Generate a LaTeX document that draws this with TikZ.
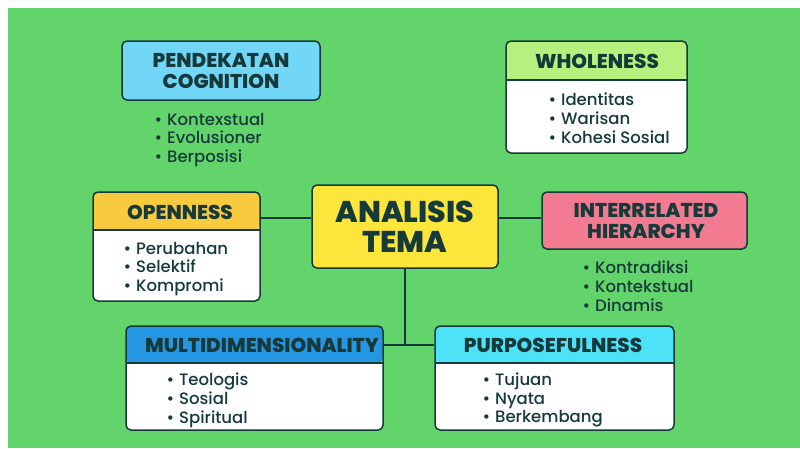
\documentclass[tikz,border=0pt]{standalone}
\usepackage{fontspec}
\setmainfont{Poppins}
\newfontfamily\isi{Poppins Medium}
\newfontfamily\tebal{Poppins ExtraBold}
\usetikzlibrary{positioning}
\definecolor{latar}{HTML}{63D46B}
\definecolor{tinta}{HTML}{163A3A}
\definecolor{langit}{HTML}{72D6F7}
\definecolor{muda}{HTML}{B8F07E}
\definecolor{emas}{HTML}{F8CB3F}
\definecolor{kuning}{HTML}{FDE63C}
\definecolor{merah}{HTML}{F37B91}
\definecolor{biru}{HTML}{2596E2}
\definecolor{toska}{HTML}{4DE2F8}
\tikzset{
    box/.style={draw=tinta, line width=1.5pt, rounded corners=5pt, inner sep=0pt},
    kepala/.style 2 args={path picture={
        \fill[#1] (path picture bounding box.north west) rectangle ([yshift=-#2]path picture bounding box.north east);
        \draw[tinta, line width=1.5pt] ([yshift=-#2]path picture bounding box.north west) -- ([yshift=-#2]path picture bounding box.north east);}},
    judul/.style={text=tinta, font=\tebal\fontsize{20}{21.5}\selectfont, align=center},
    butir/.style={text=tinta, font=\isi\fontsize{16.5}{18.8}\selectfont, align=left, anchor=west},
    conn/.style={draw=tinta, line width=1.5pt},
}
\newcommand{\bt}{\textbullet\hspace{5pt}}

\begin{document}
\begin{tikzpicture}[x=1pt, y=-1pt]
    \useasboundingbox (0,0) rectangle (800,448);
    \fill[latar] (8,8) rectangle (800,448);

    % hub lines
    \coordinate (lajur) at (405,218);
    \coordinate (hub) at (405,345);

    % main boxes
    \node[box, fill=kuning, minimum width=186, minimum height=83] (tema) at (405,226.5) {};
    \node[box, fill=langit, minimum width=198, minimum height=59] (pend) at (221,70.5) {};
    \node[box, fill=white, kepala={muda}{39pt}, minimum width=181, minimum height=112] (whole) at (596.5,97) {};
    \node[box, fill=white, kepala={emas}{38pt}, minimum width=167, minimum height=109] (open) at (176.5,246.5) {};
    \node[box, fill=merah, minimum width=205, minimum height=57] (inter) at (644.5,220.5) {};
    \node[box, fill=white, kepala={biru}{37pt}, minimum width=257, minimum height=104] (multi) at (254.5,378) {};
    \node[box, fill=white, kepala={toska}{37pt}, minimum width=239, minimum height=104] (purp) at (554.5,378) {};

    \draw[conn] (open.east |- lajur) -- (tema.west |- lajur);
    \draw[conn] (tema.east |- lajur) -- (inter.west |- lajur);
    \draw[conn] (tema.south) -- (hub);
    \draw[conn] (multi.east |- hub) -- (purp.west |- hub);

    % titles
    \node[judul, font=\tebal\fontsize{30}{30}\selectfont] (temaT) at (405,227) {ANALISIS\\TEMA};
    \node[judul] (pendT) at (221,71) {PENDEKATAN\\COGNITION};
    \node[judul] (wholeT) at (597,61) {WHOLENESS};
    \node[judul] (openT) at (180,212) {OPENNESS};
    \node[judul] (interT) at (646,221) {INTERRELATED\\HIERARCHY};
    \node[judul] (multiT) at (262,345) {MULTIDIMENSIONALITY};
    \node[judul] (purpT) at (553,345) {PURPOSEFULNESS};

    % item lists
    \node[butir] (pendL) at (151,140) {\bt Kontexstual\\\bt Evolusioner\\\bt Berposisi};
    \node[butir] (wholeL) at (545,118) {\bt Identitas\\\bt Warisan\\\bt Kohesi Sosial};
    \node[butir] (openL) at (120,269) {\bt Perubahan\\\bt Selektif\\\bt Kompromi};
    \node[butir] (interL) at (579,286) {\bt Kontradiksi\\\bt Kontekstual\\\bt Dinamis};
    \node[butir] (multiL) at (163,400) {\bt Teologis\\\bt Sosial\\\bt Spiritual};
    \node[butir] (purpL) at (479,400) {\bt Tujuan\\\bt Nyata\\\bt Berkembang};
\end{tikzpicture}
\end{document}
